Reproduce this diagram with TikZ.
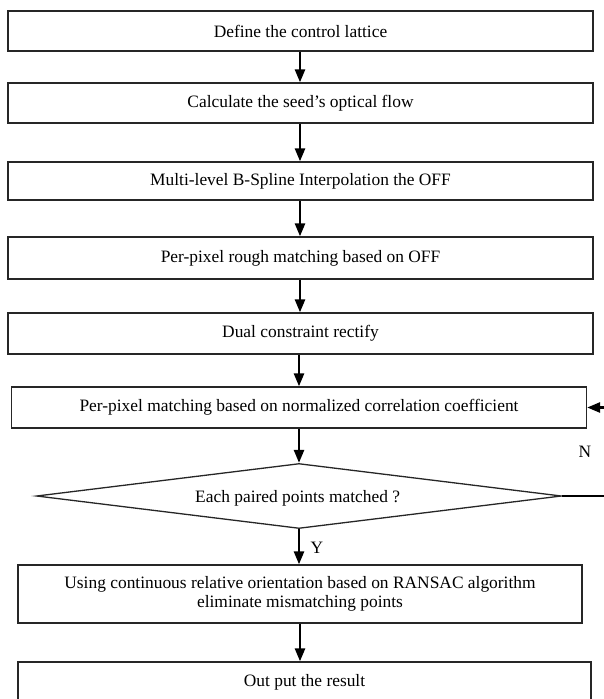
\documentclass[tikz,border=0pt]{standalone}
\usepackage{fontspec}
\setmainfont{Liberation Serif}
\usetikzlibrary{arrows.meta,shapes.geometric}
\begin{document}
\begin{tikzpicture}[x=1pt,y=-1pt,
  every node/.style={font=\fontsize{17.4}{19}\selectfont},
  box/.style={draw=black!85, line width=1.3pt, rectangle, inner sep=0pt, align=center},
  dia/.style={draw=black!85, line width=1.3pt, diamond, aspect=8, inner sep=0pt},
  arr/.style={line width=2.6pt, -{Triangle[length=13pt,width=10pt]}},
  lbl/.style={inner sep=0pt}]
\useasboundingbox (0,0) rectangle (603,699);
\node[box, minimum width=585pt, minimum height=40pt] (b1) at (300.5,31) {Define the control lattice};
\node[box, minimum width=585pt, minimum height=40pt] (b2) at (300.5,103) {Calculate the seed’s optical flow};
\node[box, minimum width=585pt, minimum height=38pt] (b3) at (300.5,181) {Multi-level B-Spline Interpolation the OFF};
\node[box, minimum width=585pt, minimum height=42pt] (b4) at (300.5,258) {Per-pixel rough matching based on OFF};
\node[box, minimum width=585pt, minimum height=41pt] (b5) at (300.5,333.5) {Dual constraint rectify};
\node[box, minimum width=575pt, minimum height=41pt] (b6) at (299,407.5) {Per-pixel matching based on normalized correlation coefficient};
\node[dia, minimum width=525pt, minimum height=65pt] (d) at (299,496) {};
\node[lbl, anchor=west] (dt) at (195,498) {Each paired points matched\kern0.25em?};
\node[box, minimum width=564pt, minimum height=58pt] (b7) at (300,594) {Using continuous relative orientation based on RANSAC algorithm\\eliminate mismatching points};
\node[box, minimum width=573pt, minimum height=41pt] (b8) at (304.5,682.5) {Out put the result};
\node[lbl] (ny) at (585,452) {N};
\node[lbl] (yy) at (317,548) {Y};
\draw[arr] (b1.south -| 300,0) -- (b2.north -| 300,0);
\draw[arr] (b2.south -| 300,0) -- (b3.north -| 300,0);
\draw[arr] (b3.south -| 300,0) -- (b4.north -| 300,0);
\draw[arr] (b4.south -| 300,0) -- (b5.north -| 300,0);
\draw[arr] (b5.south -| 299,0) -- (b6.north -| 299,0);
\draw[arr] (b6.south) -- (d.north);
\draw[arr] (d.south) -- (d.south |- b7.north);
\draw[arr] (b7.south) -- (b7.south |- b8.north);
\draw[arr] (d.east) -- ++(70,0) |- (b6.east);
\end{tikzpicture}
\end{document}
